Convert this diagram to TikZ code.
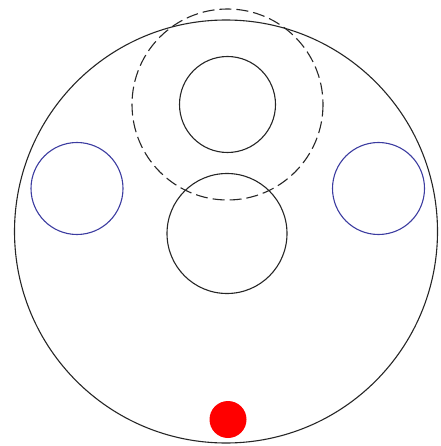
\documentclass[tikz,border=0pt]{standalone}
\usetikzlibrary{calc}
\definecolor{ringblue}{RGB}{60,60,160}
\tikzset{
  outline/.style={draw=black!85, line width=1.1pt},
  dashring/.style={outline, dash pattern=on 12pt off 5pt},
  sidering/.style={draw=ringblue, line width=1.1pt},
  reddot/.style={fill=red, draw=none}
}

\begin{document}
\begin{tikzpicture}[x=1pt, y=-1pt]
    \useasboundingbox (0,0) rectangle (440,446);
    \coordinate (body) at (226,231.5);
    \coordinate (top) at (227.5,104.5);
    \coordinate (middle) at (227,233.5);
    \coordinate (left) at (77,188.5);
    \coordinate (right) at (378.5,188.5);
    \coordinate (dot) at (228,419.5);
    \draw[outline] (body) circle[radius=211.5];
    \draw[dashring] (top) circle[radius=95.5];
    \draw[outline] (top) circle[radius=48];
    \draw[outline] (middle) circle[radius=60];
    \draw[sidering] (left) circle[radius=46];
    \draw[sidering] (right) circle[radius=46];
    \fill[reddot] (dot) circle[radius=18.5];
  \end{tikzpicture}
\end{document}
